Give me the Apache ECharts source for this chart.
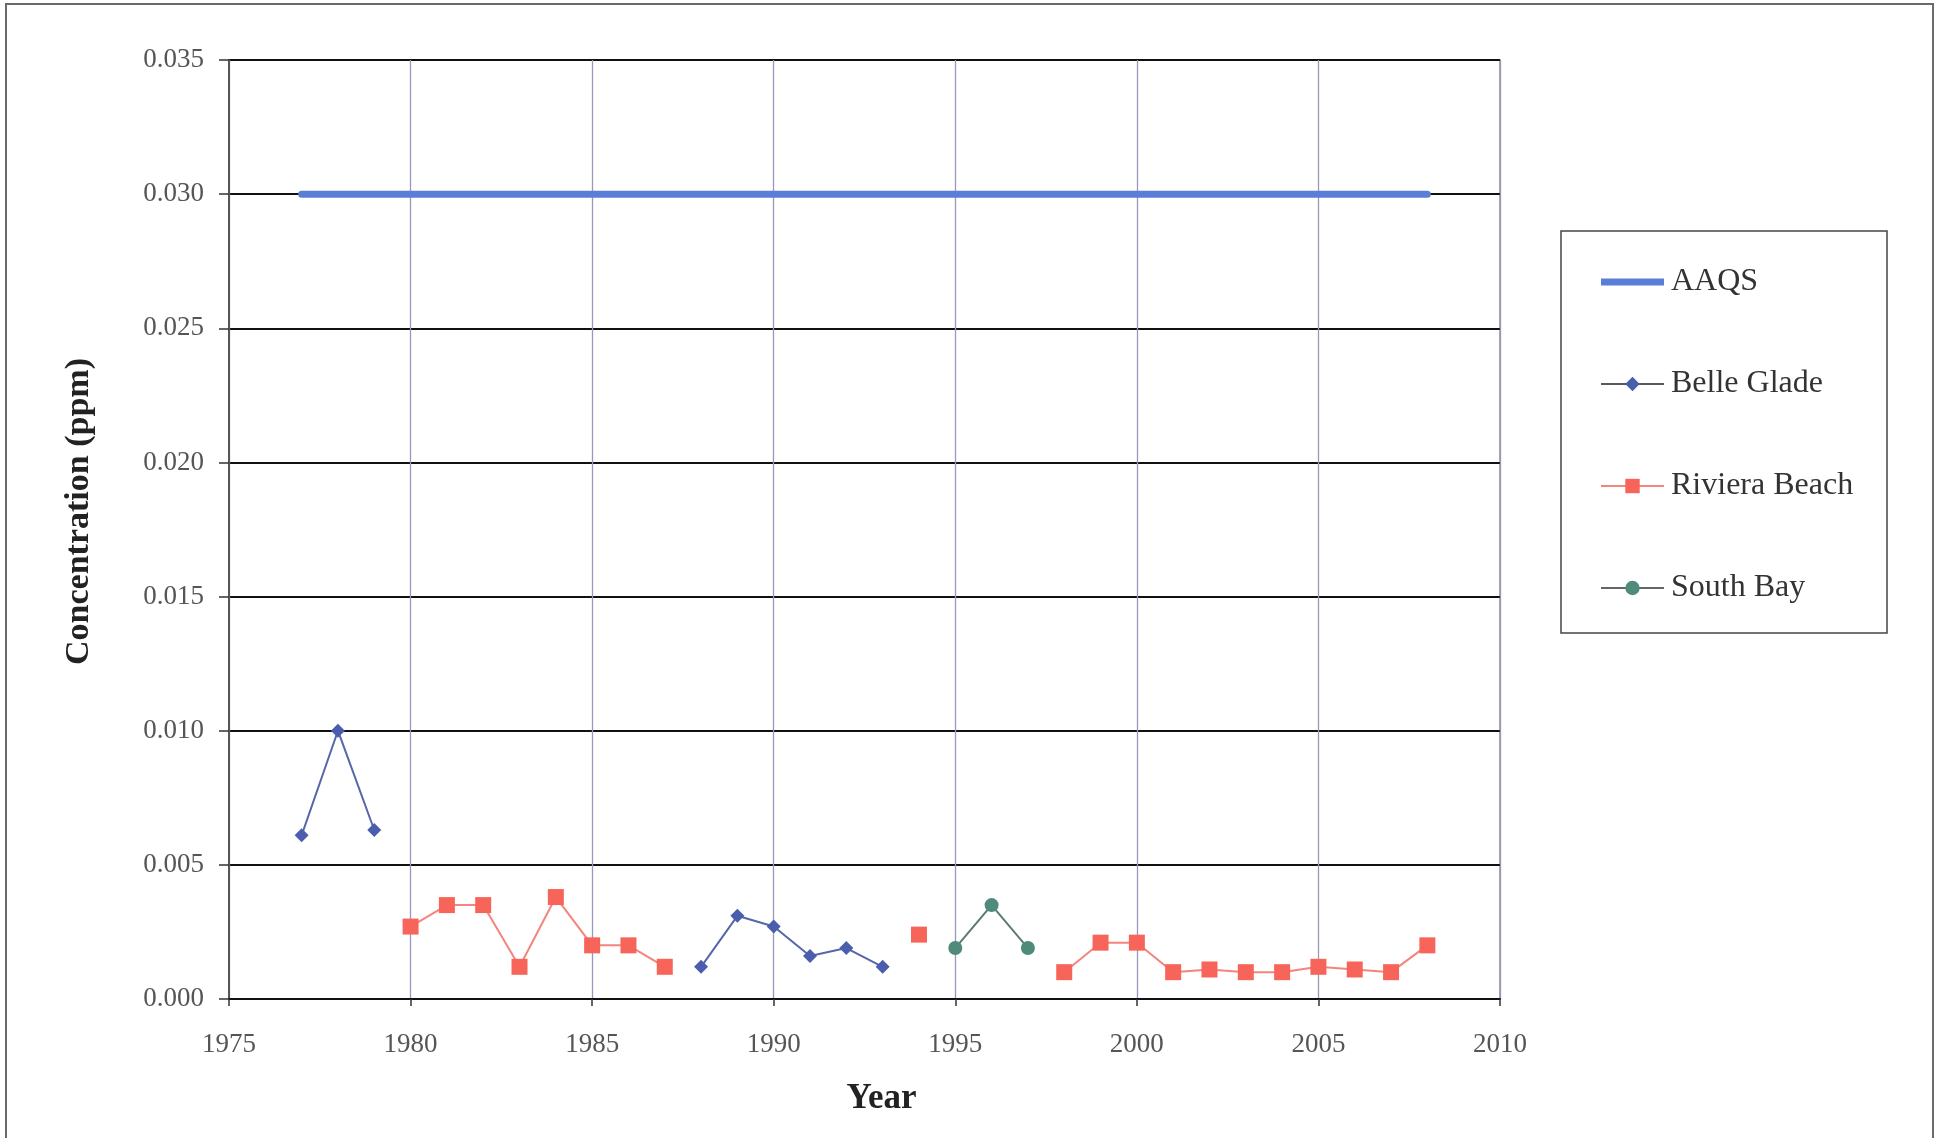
<!DOCTYPE html>
<html>
<head>
<meta charset="utf-8">
<title>Concentration (ppm) by Year</title>
<script src="https://cdn.jsdelivr.net/npm/echarts@6/dist/echarts.min.js"></script>
<style>
  html, body { margin: 0; padding: 0; background: #ffffff; }
  #chart { width: 1938px; height: 1138px; }
</style>
</head>
<body>
<div id="chart"></div>
<script>
// Annual concentrations (ppm) by monitoring site; null = no measurement that year.
const years = [1977, 1978, 1979, 1980, 1981, 1982, 1983, 1984, 1985, 1986, 1987,
               1988, 1989, 1990, 1991, 1992, 1993, 1994, 1995, 1996, 1997, 1998,
               1999, 2000, 2001, 2002, 2003, 2004, 2005, 2006, 2007, 2008];

const aaqsYears  = [1977, 2008];
const aaqsValues = [0.030, 0.030];

const belleGlade = [0.0061, 0.0100, 0.0063, null, null, null, null, null, null, null, null,
                    0.0012, 0.0031, 0.0027, 0.0016, 0.0019, 0.0012, null, null, null, null, null,
                    null, null, null, null, null, null, null, null, null, null];

const rivieraBeach = [null, null, null, 0.0027, 0.0035, 0.0035, 0.0012, 0.0038, 0.0020, 0.0020, 0.0012,
                      null, null, null, null, null, null, 0.0024, null, null, null, 0.0010,
                      0.0021, 0.0021, 0.0010, 0.0011, 0.0010, 0.0010, 0.0012, 0.0011, 0.0010, 0.0020];

const southBay = [null, null, null, null, null, null, null, null, null, null, null,
                  null, null, null, null, null, null, null, 0.0019, 0.0035, 0.0019, null,
                  null, null, null, null, null, null, null, null, null, null];

const yearTicks = ['1975', '1980', '1985', '1990', '1995', '2000', '2005', '2010'];

const FONT = "'Liberation Serif', 'Times New Roman', serif";

function pairs(xs, ys) {
  return xs.map((x, i) => [x, ys[i]]);
}

const chart = echarts.init(document.getElementById('chart'), null, { renderer: 'canvas' });

chart.setOption({
  backgroundColor: '#ffffff',
  animation: false,
  grid: {
    left: 229, top: 60, right: 438, bottom: 139,
    show: true, borderColor: '#8c8c8c', borderWidth: 1.5, backgroundColor: 'transparent'
  },
  xAxis: {
    type: 'value',
    min: 1975, max: 2010, interval: 5,
    name: 'Year',
    nameLocation: 'middle',
    nameGap: 82,
    nameTextStyle: { fontFamily: FONT, fontSize: 35, fontWeight: 'bold', color: '#222', padding: [0, 0, 0, 34] },
    axisLine: { show: true, onZero: false, lineStyle: { color: '#111', width: 2 } },
    axisTick: { show: true, inside: false, length: 7, lineStyle: { color: '#333', width: 1.5 } },
    axisLabel: {
      margin: 32, fontFamily: FONT, fontSize: 27, color: '#555',
      formatter: v => yearTicks[Math.round((v - 1975) / 5)] || ''
    },
    splitLine: { show: true, lineStyle: { color: '#9898bd', width: 1.3 } }
  },
  yAxis: {
    type: 'value',
    min: 0, max: 0.035, interval: 0.005,
    name: 'Concentration (ppm)',
    nameLocation: 'middle',
    nameGap: 133,
    nameTextStyle: { fontFamily: FONT, fontSize: 34, fontWeight: 'bold', color: '#222', padding: [0, 0, 0, 36] },
    axisLine: { show: true, lineStyle: { color: '#555', width: 2 } },
    axisTick: { show: true, inside: false, length: 10, lineStyle: { color: '#333', width: 1.5 } },
    axisLabel: {
      margin: 25, fontFamily: FONT, fontSize: 27, color: '#555',
      formatter: v => v.toFixed(3)
    },
    splitLine: { show: true, lineStyle: { color: '#111', width: 2 } }
  },
  legend: {
    orient: 'vertical',
    left: 1600, top: 266,
    padding: 0,
    itemWidth: 63, itemHeight: 18,
    itemGap: 70,
    textStyle: { fontFamily: FONT, fontSize: 32, color: '#333', lineHeight: 32, padding: [0, 0, 0, 2] },
    data: [
      { name: 'AAQS', icon: 'path://M0 0H63V7H0Z' },
      { name: 'Belle Glade', lineStyle: { color: '#222', width: 1.5 } },
      { name: 'Riviera Beach' },
      { name: 'South Bay', lineStyle: { color: '#333', width: 1.5 } }
    ]
  },
  graphic: [
    {
      type: 'rect', silent: true, z: -10,
      shape: { x: 6, y: 4, width: 1927, height: 1160 },
      style: { fill: 'none', stroke: '#6a6a6a', lineWidth: 2 }
    },
    {
      type: 'rect', silent: true, z: -5,
      shape: { x: 1561, y: 231, width: 326, height: 402 },
      style: { fill: '#ffffff', stroke: '#444', lineWidth: 1.5 }
    }
  ],
  series: [
    {
      name: 'AAQS', type: 'line',
      data: pairs(aaqsYears, aaqsValues),
      showSymbol: false, symbol: 'none',
      color: '#5a7ed6',
      lineStyle: { color: '#5a7ed6', width: 7, cap: 'round' },
      z: 3
    },
    {
      name: 'Belle Glade', type: 'line',
      data: pairs(years, belleGlade),
      connectNulls: false,
      symbol: 'diamond', symbolSize: 14, showSymbol: true,
      color: '#4b5eae',
      itemStyle: { color: '#4b5eae' },
      lineStyle: { color: '#5766a8', width: 2 },
      z: 4
    },
    {
      name: 'Riviera Beach', type: 'line',
      data: pairs(years, rivieraBeach),
      connectNulls: false,
      symbol: 'rect', symbolSize: 16, showSymbol: true,
      color: '#f7645a',
      itemStyle: { color: '#f7645a' },
      lineStyle: { color: '#f3857c', width: 2 },
      z: 4
    },
    {
      name: 'South Bay', type: 'line',
      data: pairs(years, southBay),
      connectNulls: false,
      symbol: 'circle', symbolSize: 14, showSymbol: true,
      color: '#4f8a7b',
      itemStyle: { color: '#4f8a7b' },
      lineStyle: { color: '#5d7a73', width: 2 },
      z: 4
    }
  ]
});
</script>
</body>
</html>
